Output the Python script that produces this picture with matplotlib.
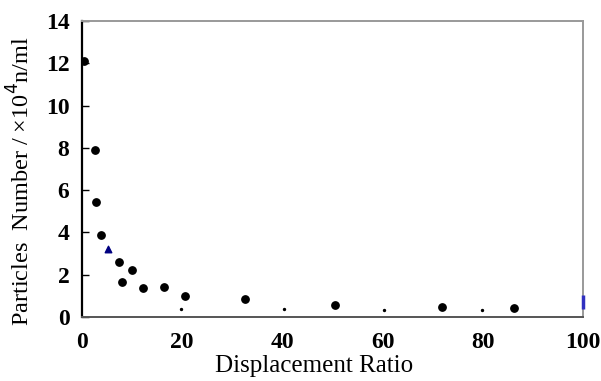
import matplotlib
matplotlib.use("Agg")
import matplotlib.pyplot as plt

# Data
x_main = [0.4, 2.6, 2.8, 3.7, 7.3, 8.0, 10.0, 12.1, 16.4, 20.5, 32.5, 50.5, 71.8, 86.2]
y_main = [12.1, 7.9, 5.45, 3.9, 2.6, 1.64, 2.2, 1.36, 1.44, 0.98, 0.85, 0.58, 0.49, 0.41]
x_tri = [5.1]
y_tri = [3.2]
x_small = [19.8, 40.3, 60.3, 79.9]
y_small = [0.36, 0.36, 0.33, 0.33]
x_edge = [100]
y_edge = [0.7]

xticks = [0, 20, 40, 60, 80, 100]
yticks = [0, 2, 4, 6, 8, 10, 12, 14]

fig = plt.figure(figsize=(6.01, 3.81), dpi=100)
ax = fig.add_axes([82/601, (381-317)/381, (583-82)/601, (317-21)/381])

ax.scatter(x_main, y_main, s=28, color="black", zorder=3)
ax.scatter(x_tri, y_tri, s=22, marker="^", color="#000080", zorder=3)
ax.scatter(x_small, y_small, s=2, color="black", zorder=3)
ax.scatter(x_edge, y_edge, s=90, marker="|", color="#3030c0", linewidths=2.5, zorder=4, clip_on=False)

ax.set_xlim(0, 100)
ax.set_ylim(0, 14)
ax.set_xticks(xticks)
ax.set_yticks(yticks)

serif = ["Liberation Serif", "DejaVu Serif"]
for lab in ax.get_xticklabels() + ax.get_yticklabels():
    lab.set_fontfamily(serif)
    lab.set_fontweight("bold")
    lab.set_fontsize(17)

ax.tick_params(axis="x", length=0, pad=11)
ax.tick_params(axis="y", direction="in", length=5, width=1, pad=9)

ax.spines["left"].set_color("black")
ax.spines["left"].set_linewidth(1.6)
ax.spines["bottom"].set_color("#555555")
ax.spines["bottom"].set_linewidth(1.4)
ax.spines["top"].set_color("#999999")
ax.spines["top"].set_linewidth(1.4)
ax.spines["right"].set_color("#999999")
ax.spines["right"].set_linewidth(1.4)

ax.set_xlabel("Displacement Ratio", fontfamily=serif, fontsize=18)
ax.xaxis.set_label_coords(0.464, -0.13)
ax.set_ylabel("Particles  Number / ×10$^4$n/ml", fontfamily=serif, fontsize=17.5)
ax.yaxis.set_label_coords(-0.094, 0.46)

fig.savefig("out.png", dpi=100)
